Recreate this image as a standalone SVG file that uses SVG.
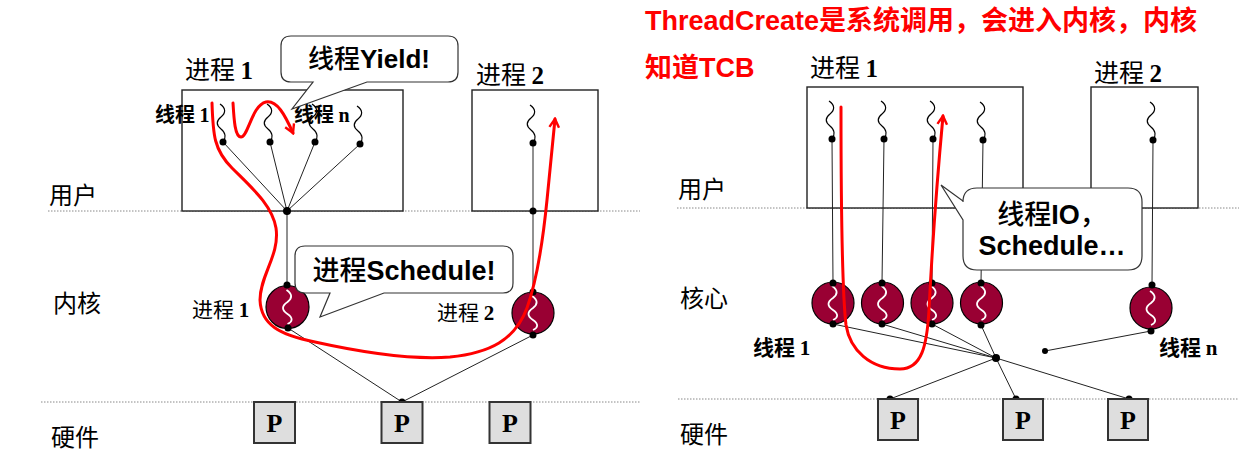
<svg xmlns="http://www.w3.org/2000/svg" width="1239" height="459" viewBox="0 0 1239 459">
<style>
.lvl{font-family:"Noto Sans CJK SC","Liberation Sans",sans-serif;font-size:24px;fill:#000}
.lbl{font-family:"Noto Sans CJK SC","Liberation Serif",serif;font-size:25px;fill:#000}
.sm{font-family:"Noto Sans CJK SC","Liberation Serif",serif;font-size:20px;font-weight:bold;fill:#000}
.num{font-family:"Liberation Serif",serif;font-weight:bold}
.call{font-family:"Liberation Sans","Noto Sans CJK SC",sans-serif;font-size:26px;font-weight:bold;fill:#000;text-anchor:middle}
.cjk{font-family:"Noto Sans CJK SC",sans-serif;font-weight:500}
.title{font-family:"Liberation Sans","Noto Sans CJK SC",sans-serif;font-size:27px;font-weight:bold;fill:#ff0000}
.pt{font-family:"Liberation Serif",serif;font-size:26px;font-weight:bold;fill:#000;text-anchor:middle}
.box{fill:#fff;stroke:#222;stroke-width:1.4}
.pbox{fill:#dedede;stroke:#333;stroke-width:2}
.dot{fill:#000}
.ln{stroke:#222;stroke-width:1;fill:none}
.div{stroke:#888;stroke-width:1;stroke-dasharray:1.5,1.5}
.sq{fill:none;stroke:#000;stroke-width:1.2}
.cpu{fill:#990033;stroke:#000;stroke-width:1.2}
.wsq{fill:none;stroke:#fff;stroke-width:1.8}
.red{fill:none;stroke:#ff0000;stroke-width:3;stroke-linecap:round}
.bub{fill:#fff;stroke:#333;stroke-width:1.2}
</style>
<defs>
<path id="sq" d="M-3,-38 c6,4 6,9 1,13 c-5,4 -5,8 0,12 c5,4 5,9 2,13" class="sq"/>
<path id="wsq" d="M-1,-17 c6,4 6,8 1,12 c-6,4 -6,8 0,12 c6,4 5,8 0,10" class="wsq"/>
<marker id="ah" viewBox="0 0 10 10" refX="8" refY="5" markerWidth="4" markerHeight="4" orient="auto" markerUnits="strokeWidth">
<path d="M1,1 L8,5 L1,9" fill="none" stroke="#ff0000" stroke-width="2"/>
</marker>
</defs>
<rect width="1239" height="459" fill="#fff"/>

<g id="dividers">
<line class="div" x1="48" y1="211" x2="640" y2="211"/>
<line class="div" x1="41" y1="402" x2="640" y2="402"/>
<line class="div" x1="677" y1="208" x2="1239" y2="208"/>
<line class="div" x1="678" y1="399" x2="1239" y2="399"/>
</g>

<g id="levels">
<text class="lvl" x="49" y="204">用户</text>
<text class="lvl" x="53" y="312">内核</text>
<text class="lvl" x="51" y="446">硬件</text>
<text class="lvl" x="678" y="198">用户</text>
<text class="lvl" x="680" y="307">核心</text>
<text class="lvl" x="680" y="443">硬件</text>
</g>

<g id="title">
<text class="title" x="645" y="30">ThreadCreate是系统调用，会进入内核，内核</text>
<text class="title" x="645" y="77">知道TCB</text>
</g>

<!-- LEFT DIAGRAM -->
<g id="L-proc1">
<rect class="box" x="182" y="90" width="221" height="121"/>
<text class="lbl" x="185" y="79">进程 <tspan class="num">1</tspan></text>
<text class="sm" x="155" y="122">线程 <tspan class="num">1</tspan></text>
<text class="sm" x="294" y="122">线程 <tspan class="num">n</tspan></text>
<use href="#sq" x="223" y="142"/>
<use href="#sq" x="270" y="142"/>
<use href="#sq" x="315" y="142"/>
<use href="#sq" x="360" y="144"/>
</g>
<g id="L-proc2">
<rect class="box" x="472" y="90" width="126" height="121"/>
<text class="lbl" x="476" y="84">进程 <tspan class="num">2</tspan></text>
<use href="#sq" x="533" y="143"/>
</g>

<g id="L-connectors">
<line class="ln" x1="223" y1="142" x2="287" y2="211"/>
<line class="ln" x1="270" y1="142" x2="287" y2="211"/>
<line class="ln" x1="315" y1="142" x2="287" y2="211"/>
<line class="ln" x1="360" y1="144" x2="287" y2="211"/>
<line class="ln" x1="287" y1="211" x2="287" y2="285"/>
<line class="ln" x1="533" y1="143" x2="533" y2="292"/>
<line class="ln" x1="288" y1="328" x2="402" y2="402"/>
<line class="ln" x1="533" y1="335" x2="402" y2="402"/>
<circle class="dot" cx="223" cy="142" r="3.5"/>
<circle class="dot" cx="270" cy="142" r="3.5"/>
<circle class="dot" cx="315" cy="142" r="3.5"/>
<circle class="dot" cx="360" cy="144" r="3.5"/>
<circle class="dot" cx="287" cy="211" r="4"/>
<circle class="dot" cx="533" cy="143" r="3.5"/>
<circle class="dot" cx="533" cy="211" r="3.5"/>
<circle class="dot" cx="402" cy="402" r="3.5"/>
</g>

<g id="L-k1">
<circle class="cpu" cx="287.5" cy="307" r="21.5"/>
<use href="#wsq" x="287.5" y="307"/>
<circle class="dot" cx="287" cy="285" r="3.5"/>
<circle class="dot" cx="288" cy="328" r="3.5"/>
<text class="lbl" style="font-size:21px" x="192" y="317">进程 <tspan class="num">1</tspan></text>
</g>
<g id="L-k2">
<circle class="cpu" cx="533" cy="313" r="21"/>
<use href="#wsq" x="533" y="313"/>
<circle class="dot" cx="533" cy="292" r="3.5"/>
<circle class="dot" cx="533" cy="335" r="3.5"/>
<text class="lbl" style="font-size:21px" x="437" y="320">进程 <tspan class="num">2</tspan></text>
</g>

<g id="L-cpus">
<rect class="pbox" x="254" y="402" width="41" height="41"/>
<text class="pt" x="274.5" y="432">P</text>
<rect class="pbox" x="381.5" y="402" width="41" height="41"/>
<text class="pt" x="402" y="432">P</text>
<rect class="pbox" x="489.5" y="402" width="41" height="41"/>
<text class="pt" x="510" y="432">P</text>
</g>

<g id="L-yield">
<path class="bub" d="M291,36 H448 Q458,36 458,46 V72 Q458,82 448,82 H367 L292,109 L313,82 H291 Q281,82 281,72 V46 Q281,36 291,36 Z"/>
<text class="call" x="369" y="68"><tspan class="cjk">线程</tspan>Yield!</text>
</g>
<g id="L-schedule">
<path class="bub" d="M305,246 H503 Q513,246 513,256 V283 Q513,293 503,293 H384 L320,317 L330,293 H305 Q295,293 295,283 V256 Q295,246 305,246 Z"/>
<text class="call" style="font-size:27px" x="404" y="280"><tspan class="cjk">进程</tspan>Schedule!</text>
</g>

<g id="L-red">
<path class="red" d="M233,103 C234,120 235,137 241,137 C248,137 252,105 266,102 C277,100 285,115 293,133" marker-end="url(#ah)"/>
<path class="red" d="M212,103 C213,135 214,150 232,168 C252,188 272,205 276,228 C280,255 260,275 260,300 C261,325 280,335 315,342 C360,352 410,360 450,357 C490,353 515,340 527,308 C537,280 543,240 547,200 C550,170 553,140 555,119" marker-end="url(#ah)"/>
</g>

<!-- RIGHT DIAGRAM -->
<g id="R-proc1">
<rect class="box" x="807" y="87" width="216" height="121"/>
<text class="lbl" x="810" y="77">进程 <tspan class="num">1</tspan></text>
<use href="#sq" x="832" y="139"/>
<use href="#sq" x="884" y="139"/>
<use href="#sq" x="933" y="139"/>
<use href="#sq" x="983" y="140"/>
</g>
<g id="R-proc2">
<rect class="box" x="1091" y="87" width="107" height="121"/>
<text class="lbl" x="1094" y="82">进程 <tspan class="num">2</tspan></text>
<use href="#sq" x="1153" y="140"/>
</g>

<g id="R-connectors">
<line class="ln" x1="832" y1="139" x2="833" y2="283"/>
<line class="ln" x1="884" y1="139" x2="882" y2="283"/>
<line class="ln" x1="933" y1="139" x2="932" y2="283"/>
<line class="ln" x1="983" y1="140" x2="981" y2="283"/>
<line class="ln" x1="1153" y1="140" x2="1152" y2="285"/>
<line class="ln" x1="833" y1="324" x2="996" y2="358"/>
<line class="ln" x1="882" y1="324" x2="996" y2="358"/>
<line class="ln" x1="932" y1="324" x2="996" y2="358"/>
<line class="ln" x1="981" y1="325" x2="996" y2="358"/>
<line class="ln" x1="996" y1="358" x2="890" y2="399"/>
<line class="ln" x1="996" y1="358" x2="1016" y2="399"/>
<line class="ln" x1="996" y1="358" x2="1129" y2="399"/>
<line class="ln" x1="1045" y1="351" x2="1151" y2="331"/>
<circle class="dot" cx="832" cy="139" r="3.5"/>
<circle class="dot" cx="884" cy="139" r="3.5"/>
<circle class="dot" cx="933" cy="139" r="3.5"/>
<circle class="dot" cx="983" cy="140" r="3.5"/>
<circle class="dot" cx="1153" cy="140" r="3.5"/>
<circle class="dot" cx="996" cy="358" r="4"/>
<circle class="dot" cx="1045" cy="351" r="3"/>
<circle class="dot" cx="890" cy="399" r="3.5"/>
<circle class="dot" cx="1016" cy="399" r="3.5"/>
<circle class="dot" cx="1129" cy="399" r="3.5"/>
</g>

<g id="R-k1">
<circle class="cpu" cx="833" cy="303" r="21"/>
<use href="#wsq" x="833" y="303"/>
<circle class="dot" cx="833" cy="283" r="3.5"/>
<circle class="dot" cx="833" cy="324" r="3.5"/>
</g>
<g id="R-k2">
<circle class="cpu" cx="882.5" cy="303" r="21"/>
<use href="#wsq" x="882.5" y="303"/>
<circle class="dot" cx="882" cy="283" r="3.5"/>
<circle class="dot" cx="882" cy="324" r="3.5"/>
</g>
<g id="R-k3">
<circle class="cpu" cx="932" cy="303" r="21"/>
<use href="#wsq" x="932" y="303"/>
<circle class="dot" cx="932" cy="283" r="3.5"/>
<circle class="dot" cx="932" cy="324" r="3.5"/>
</g>
<g id="R-k4">
<circle class="cpu" cx="981.5" cy="303" r="21"/>
<use href="#wsq" x="981.5" y="303"/>
<circle class="dot" cx="981" cy="283" r="3.5"/>
<circle class="dot" cx="981" cy="325" r="3.5"/>
</g>
<g id="R-k5">
<circle class="cpu" cx="1151" cy="308" r="21"/>
<use href="#wsq" x="1151" y="308"/>
<circle class="dot" cx="1152" cy="285" r="3.5"/>
<circle class="dot" cx="1151" cy="331" r="3.5"/>
</g>
<g id="R-labels">
<text class="lbl" style="font-size:21px;font-weight:bold" x="753" y="355">线程 <tspan class="num">1</tspan></text>
<text class="lbl" style="font-size:21px;font-weight:bold" x="1159" y="355">线程 <tspan class="num">n</tspan></text>
</g>

<g id="R-cpus">
<rect class="pbox" x="878" y="399" width="40" height="41"/>
<text class="pt" x="898" y="429">P</text>
<rect class="pbox" x="1003" y="399" width="40" height="41"/>
<text class="pt" x="1023" y="429">P</text>
<rect class="pbox" x="1108" y="399" width="40" height="41"/>
<text class="pt" x="1128" y="429">P</text>
</g>

<g id="R-callout">
<path class="bub" d="M977,188 H1128 Q1142,188 1142,202 V256 Q1142,270 1128,270 H977 Q963,270 963,256 V220 L941,185 L963,201 V202 Q963,188 977,188 Z"/>
<text class="call" style="font-size:27px" x="1052" y="224"><tspan class="cjk">线程</tspan>IO<tspan class="cjk">，</tspan></text>
<text class="call" style="font-size:27px" x="1052" y="255">Schedule…</text>
</g>

<g id="R-red">
<path class="red" d="M841,107 C841,200 842,290 846,325 C850,350 870,369 900,369 C922,369 927,345 929,310 C932,250 938,170 943,116" marker-end="url(#ah)"/>
</g>
</svg>
